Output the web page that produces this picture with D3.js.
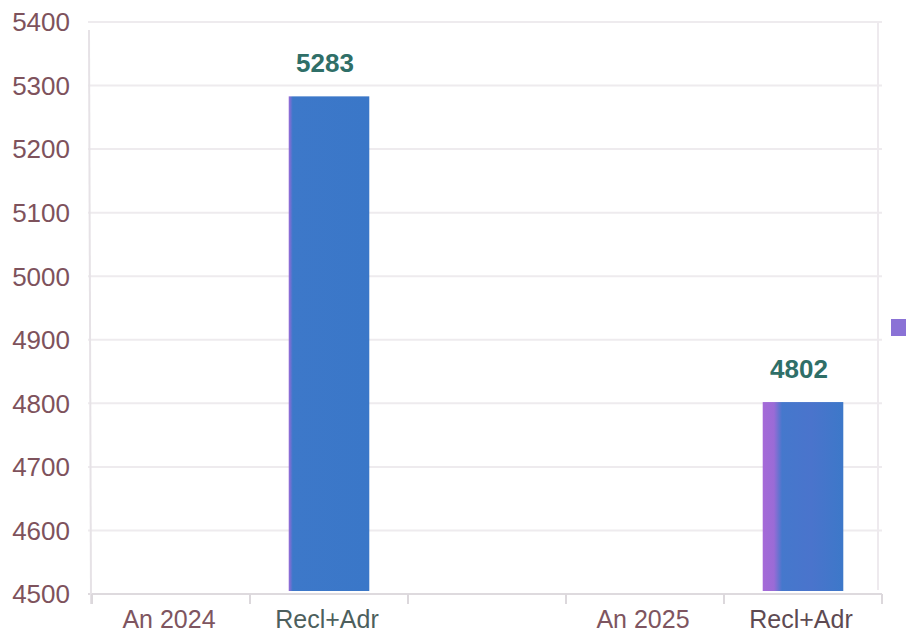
<!DOCTYPE html>
<html lang="ro">
<head>
<meta charset="utf-8" />
<script src="https://d3js.org/d3.v7.min.js"></script>
<style>
  body { margin: 0; background: #fff; }
  svg { display: block; }
  text { font-family: "Liberation Sans", Arial, sans-serif; }
  .tick-y { font-size: 26px; fill: #7e525c; }
  .cat { font-size: 25px; fill: #7e5560; }
  .value { font-size: 26px; font-weight: bold; fill: #2f6f68; }
</style>
</head>
<body>
<script>
  var categories = ["An 2024", "Recl+Adr", "", "An 2025", "Recl+Adr"];
  var values = [null, 5283, null, null, 4802];
  var yTicks = [4500, 4600, 4700, 4800, 4900, 5000, 5100, 5200, 5300, 5400];

  var width = 906, height = 636;
  var plotLeft = 92, plotRight = 882, plotTop = 22, plotBottom = 594;

  var svg = d3.select("body").append("svg")
      .attr("width", width)
      .attr("height", height);

  var x = d3.scaleBand()
      .domain(d3.range(categories.length))
      .range([plotLeft, plotRight])
      .paddingInner(0.49)
      .paddingOuter(0.245);

  var step = (plotRight - plotLeft) / categories.length;

  var y = d3.scaleLinear()
      .domain([4500, 5400])
      .range([plotBottom, plotTop]);

  // gradients for the bars (purple edge into blue)
  var defs = svg.append("defs");
  var g1 = defs.append("linearGradient").attr("id", "bar0");
  g1.append("stop").attr("offset", "0%").attr("stop-color", "#9a6ad8");
  g1.append("stop").attr("offset", "5%").attr("stop-color", "#3d78c9");
  g1.append("stop").attr("offset", "100%").attr("stop-color", "#3a77c8");
  var g2 = defs.append("linearGradient").attr("id", "bar1");
  g2.append("stop").attr("offset", "0%").attr("stop-color", "#a56ad8");
  g2.append("stop").attr("offset", "14%").attr("stop-color", "#9a6bd6");
  g2.append("stop").attr("offset", "24%").attr("stop-color", "#4578cc");
  g2.append("stop").attr("offset", "60%").attr("stop-color", "#4a74cc");
  g2.append("stop").attr("offset", "100%").attr("stop-color", "#3d78c9");

  // horizontal gridlines
  svg.append("g")
    .selectAll("line")
    .data(yTicks)
    .join("line")
      .attr("x1", plotLeft - 4)
      .attr("x2", plotRight)
      .attr("y1", function (d) { return y(d); })
      .attr("y2", function (d) { return y(d); })
      .attr("stroke", function (d) { return d === 4500 ? "#dedade" : "#eeebee"; })
      .attr("stroke-width", 2);

  // left and right frame lines
  svg.append("line")
      .attr("x1", plotLeft - 3).attr("x2", plotLeft - 1)
      .attr("y1", plotTop + 8).attr("y2", plotBottom + 10)
      .attr("stroke", "#e6e2e6").attr("stroke-width", 2);
  svg.append("line")
      .attr("x1", plotRight - 4).attr("x2", plotRight - 4)
      .attr("y1", plotTop).attr("y2", plotBottom - 4)
      .attr("stroke", "#eeeaee").attr("stroke-width", 2);

  // y tick labels
  svg.append("g")
    .selectAll("text")
    .data(yTicks)
    .join("text")
      .attr("class", "tick-y")
      .attr("x", 70)
      .attr("y", function (d) { return y(d); })
      .attr("dy", "0.36em")
      .attr("text-anchor", "end")
      .text(function (d) { return d; });

  // x ticks at band boundaries
  svg.append("g")
    .selectAll("line")
    .data(d3.range(categories.length + 1))
    .join("line")
      .attr("x1", function (i) { return plotLeft + i * step; })
      .attr("x2", function (i) { return plotLeft + i * step; })
      .attr("y1", plotBottom)
      .attr("y2", plotBottom + 10)
      .attr("stroke", "#dcd8dc")
      .attr("stroke-width", 2);

  // category labels
  svg.append("g")
    .selectAll("text")
    .data(categories)
    .join("text")
      .attr("class", "cat")
      .attr("x", function (d, i) { return x(i) + x.bandwidth() / 2 - 2; })
      .attr("y", 628)
      .attr("text-anchor", "middle")
      .style("fill", function (d, i) { return i === 1 ? "#4d5f5d" : i === 4 ? "#5e4a52" : null; })
      .text(function (d) { return d; });

  var bars = values.map(function (v, i) { return { v: v, i: i }; })
      .filter(function (d) { return d.v !== null; });

  svg.append("g")
    .selectAll("rect")
    .data(bars)
    .join("rect")
      .attr("x", function (d) { return x(d.i); })
      .attr("width", x.bandwidth())
      .attr("y", function (d) { return y(d.v); })
      .attr("height", function (d) { return y(4500) - y(d.v) - 3; })
      .attr("fill", function (d, k) { return "url(#bar" + k + ")"; });

  svg.append("g")
    .selectAll("text")
    .data(bars)
    .join("text")
      .attr("class", "value")
      .attr("x", function (d) { return x(d.i) + x.bandwidth() / 2 - 4; })
      .attr("y", function (d) { return y(d.v) - 24; })
      .attr("text-anchor", "middle")
      .text(function (d) { return d.v; });

  // legend marker, cut at the right edge
  svg.append("rect")
      .attr("x", 891)
      .attr("y", 319)
      .attr("width", 20)
      .attr("height", 17)
      .attr("fill", "#8a72d6");
</script>
</body>
</html>
